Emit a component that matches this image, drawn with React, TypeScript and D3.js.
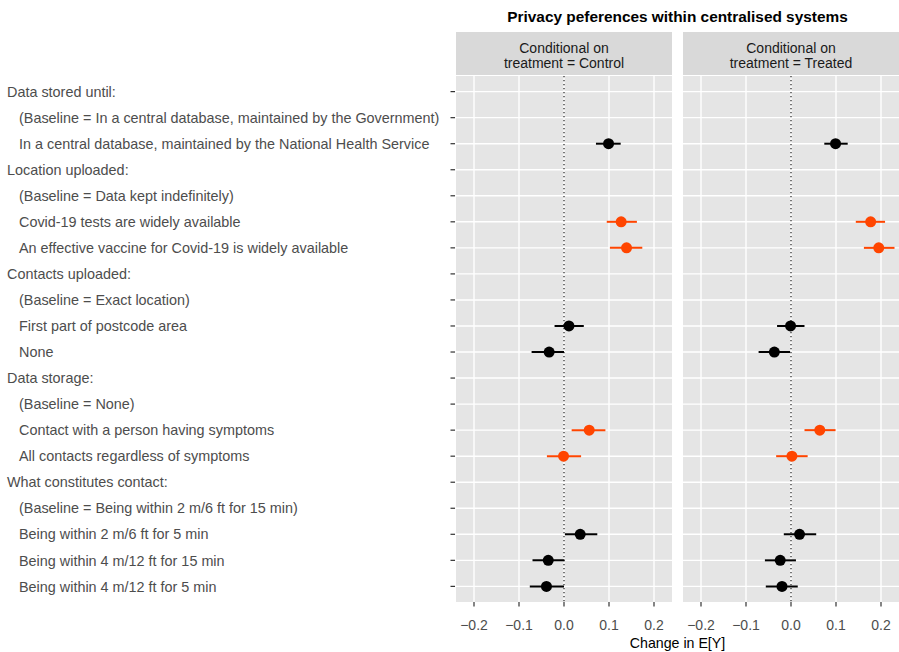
import React from "react";
import * as d3 from "d3";

const labels = [
  "Data stored until:",
  "(Baseline = In a central database, maintained by the Government)",
  "In a central database, maintained by the National Health Service",
  "Location uploaded:",
  "(Baseline = Data kept indefinitely)",
  "Covid-19 tests are widely available",
  "An effective vaccine for Covid-19 is widely available",
  "Contacts uploaded:",
  "(Baseline = Exact location)",
  "First part of postcode area",
  "None",
  "Data storage:",
  "(Baseline = None)",
  "Contact with a person having symptoms",
  "All contacts regardless of symptoms",
  "What constitutes contact:",
  "(Baseline = Being within 2 m/6 ft for 15 min)",
  "Being within 2 m/6 ft for 5 min",
  "Being within 4 m/12 ft for 15 min",
  "Being within 4 m/12 ft for 5 min",
];
const isHeader = [true, false, false, true, false, false, false, true, false, false, false, true, false, false, false, true, false, false, false, false];

// estimates: [row index, estimate, lower, upper, highlighted]
const controlEst = [
  [2, 0.099, 0.071, 0.126, 0],
  [5, 0.127, 0.095, 0.162, 1],
  [6, 0.139, 0.102, 0.174, 1],
  [9, 0.011, -0.021, 0.044, 0],
  [10, -0.033, -0.072, 0.0, 0],
  [13, 0.056, 0.017, 0.092, 1],
  [14, -0.001, -0.038, 0.038, 1],
  [17, 0.036, 0.002, 0.074, 0],
  [18, -0.035, -0.07, 0.001, 0],
  [19, -0.039, -0.076, 0.0, 0],
];
const treatedEst = [
  [2, 0.099, 0.074, 0.126, 0],
  [5, 0.177, 0.144, 0.209, 1],
  [6, 0.195, 0.162, 0.23, 1],
  [9, -0.001, -0.031, 0.03, 0],
  [10, -0.037, -0.072, -0.002, 0],
  [13, 0.064, 0.03, 0.099, 1],
  [14, 0.002, -0.033, 0.037, 1],
  [17, 0.019, -0.016, 0.056, 0],
  [18, -0.024, -0.058, 0.011, 0],
  [19, -0.02, -0.056, 0.015, 0],
];
const panels = [
  { line1: "Conditional on", line2: "treatment = Control", data: controlEst },
  { line1: "Conditional on", line2: "treatment = Treated", data: treatedEst },
];
const xTicks = [-0.2, -0.1, 0.0, 0.1, 0.2];

const FONT = "'Liberation Sans', Arial, sans-serif";

export default function App() {
  const W = 899, H = 652;
  const top = 76, bottom = 602;
  const panelX = [456, 683];
  const pw = 216;
  const y = d3.scalePoint<number>().domain(labels.map((_, i) => i)).range([top, bottom]).padding(0.6);
  const fmt = (v: number) => (v < 0 ? "\u2212" + Math.abs(v).toFixed(1) : v.toFixed(1));

  return (
    <svg width={W} height={H} style={{ position: "absolute", left: 0, top: 0, background: "#fff" }} fontFamily={FONT}>
      <text x={677.5} y={22} textAnchor="middle" fontWeight="bold" fontSize={15.4} fill="#000">
        Privacy peferences within centralised systems
      </text>
      {labels.map((l, i) => (
        <g key={"yl" + i}>
          <text x={isHeader[i] ? 7 : 19} y={(y(i) as number) + 5.2} fontSize={14.4} fill="#4D4D4D">{l}</text>
          <line x1={450.5} x2={455} y1={y(i)} y2={y(i)} stroke="#333" strokeWidth={1.2} />
        </g>
      ))}
      {panels.map((p, pi) => {
        const x0 = panelX[pi];
        const x = d3.scaleLinear().domain([-0.24, 0.24]).range([x0, x0 + pw]);
        return (
          <g key={"p" + pi}>
            <rect x={x0} y={32} width={pw} height={43} fill="#D9D9D9" />
            <text x={x0 + pw / 2} y={53} textAnchor="middle" fontSize={14} fill="#1A1A1A">{p.line1}</text>
            <text x={x0 + pw / 2} y={68} textAnchor="middle" fontSize={14} fill="#1A1A1A">{p.line2}</text>
            <rect x={x0} y={top} width={pw} height={bottom - top} fill="#E5E5E5" />
            {labels.map((_, i) => (
              <line key={"hg" + i} x1={x0} x2={x0 + pw} y1={y(i)} y2={y(i)} stroke="#fff" strokeWidth={1.4} />
            ))}
            {xTicks.map((t) => (
              <g key={"xt" + t}>
                <line x1={x(t)} x2={x(t)} y1={top} y2={bottom} stroke="#fff" strokeWidth={1.4} />
                <line x1={x(t)} x2={x(t)} y1={bottom} y2={bottom + 4.5} stroke="#333" strokeWidth={1.2} />
                <text x={x(t)} y={630} textAnchor="middle" fontSize={14} fill="#4D4D4D">{fmt(t)}</text>
              </g>
            ))}
            <line x1={x(0)} x2={x(0)} y1={top} y2={bottom} stroke="#333" strokeWidth={1.3} strokeDasharray="1.3,2.7" />
            {p.data.map((d, k) => {
              const col = d[4] ? "#FF4500" : "#000";
              return (
                <g key={"pt" + k}>
                  <line x1={x(d[2])} x2={x(d[3])} y1={y(d[0])} y2={y(d[0])} stroke={col} strokeWidth={2} />
                  <circle cx={x(d[1])} cy={y(d[0])} r={5.5} fill={col} />
                </g>
              );
            })}
          </g>
        );
      })}
      <text x={677.5} y={647.5} textAnchor="middle" fontSize={14.2} fill="#000">Change in E[Y]</text>
    </svg>
  );
}
